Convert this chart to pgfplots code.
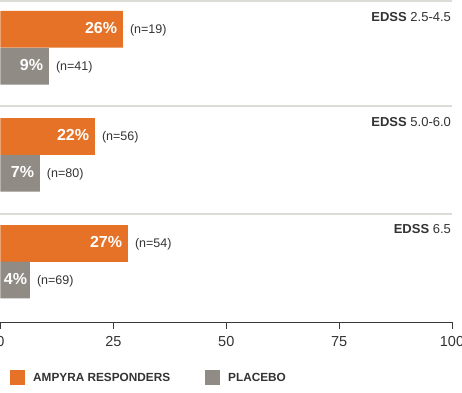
\documentclass[border=0pt]{standalone}
\usepackage{pgfplots}
\pgfplotsset{compat=1.18}
\usepackage{pgfplotstable}
\usepackage{fontspec}
\setmainfont{Liberation Sans}
\definecolor{ampyra}{HTML}{E57227}
\definecolor{placebo}{HTML}{908B84}
\definecolor{sepgray}{HTML}{DCDCD7}
\definecolor{axisgray}{HTML}{3A3A3A}
\definecolor{darktext}{HTML}{333333}

\def\splitlab#1/#2/#3\relax{\llap{\fontsize{16}{16}\selectfont\bfseries\color{white}#1\%\hspace{#3pt}}{\fontsize{12.5}{14}\selectfont\color{darktext}\hspace{7pt}(n=#2)}}

\pgfplotstableread{
y x lab
292.7 27.1 26/19/6
185.5 20.9 22/56/6
78.5 28.2 27/54/6
}\ampyratab
\pgfplotstableread{
y x lab
255.7 10.7 9/41/6
148.7 8.7 7/80/6
42.0 6.5 4/69/3
}\placebotab

\begin{document}
\begin{tikzpicture}
\begin{axis}[
  scale only axis, width=451.5pt, height=322pt,
  xmin=0, xmax=100, ymin=0, ymax=322,
  axis x line*=bottom, axis y line=none,
  xtick={0,25,50,75,100}, ytick=\empty,
  tick align=outside, major tick length=7pt,
  x axis line style={draw=axisgray, line width=1pt},
  xtick style={draw=axisgray, line width=1pt},
  xticklabel style={font=\fontsize{14.5}{15}\selectfont, text=darktext, yshift=-4pt},
  /pgf/number format/assume math mode=true,
  clip=false,
  xbar, bar width=36.7,
  point meta=explicit symbolic,
  nodes near coords={\expandafter\splitlab\pgfplotspointmeta\relax},
  every node near coord/.append style={anchor=west, inner sep=0pt},
  legend style={at={(axis cs:2.1,-48)}, anchor=north west, draw=none, fill=none,
    inner sep=0pt, font=\fontsize{11.8}{12}\selectfont\bfseries, text=darktext,
    /tikz/every even column/.append style={column sep=33pt}},
  legend columns=2,
  legend image code/.code={\fill[#1] (0pt,-7.5pt) rectangle (15pt,7.5pt); \path (21pt,0pt);},
]
\addplot[fill=ampyra, draw=none, bar shift=0pt] table[x=x, y=y, meta=lab] {\ampyratab};
\addlegendentry{AMPYRA RESPONDERS}
\addplot[fill=placebo, draw=none, bar shift=0pt] table[x=x, y=y, meta=lab] {\placebotab};
\addlegendentry{PLACEBO}

\draw[sepgray, line width=2pt] (axis cs:0,321) -- (axis cs:100,321);
\draw[sepgray, line width=2pt] (axis cs:0,216) -- (axis cs:100,216);
\draw[sepgray, line width=2pt] (axis cs:0,108.5) -- (axis cs:100,108.5);

\node[anchor=east, inner sep=0pt, text=darktext, font=\fontsize{13}{14}\selectfont] at (axis cs:99.8,305) {\textbf{EDSS} 2.5-4.5};
\node[anchor=east, inner sep=0pt, text=darktext, font=\fontsize{13}{14}\selectfont] at (axis cs:99.8,200) {\textbf{EDSS} 5.0-6.0};
\node[anchor=east, inner sep=0pt, text=darktext, font=\fontsize{13}{14}\selectfont] at (axis cs:99.8,92.5) {\textbf{EDSS} 6.5};
\end{axis}
\pgfresetboundingbox
\path[use as bounding box] (-0.5pt,-70pt) rectangle (461.5pt,322pt);
\end{tikzpicture}
\end{document}
